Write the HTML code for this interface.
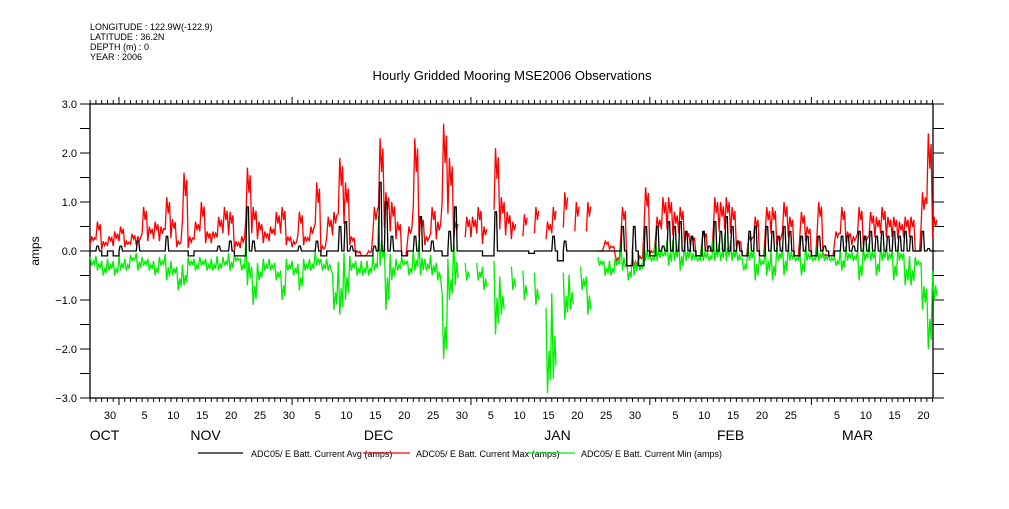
<!DOCTYPE html>
<html><head><meta charset="utf-8">
<style>
html,body{margin:0;padding:0;background:#fff;}
body{width:1009px;height:504px;overflow:hidden;font-family:"Liberation Sans",sans-serif;}
svg text{font-family:"Liberation Sans",sans-serif;fill:#000;}
</style></head>
<body>
<svg id="chart" width="1009" height="504" viewBox="0 0 1009 504" xmlns="http://www.w3.org/2000/svg">
  <g font-size="9">
    <text x="90" y="30">LONGITUDE : 122.9W(-122.9)</text>
    <text x="90" y="40">LATITUDE : 36.2N</text>
    <text x="90" y="50">DEPTH (m) : 0</text>
    <text x="90" y="60">YEAR : 2006</text>
  </g>
  <text x="512" y="80" text-anchor="middle" font-size="13">Hourly Gridded Mooring MSE2006 Observations</text>
  <text x="0" y="0" transform="translate(39,251) rotate(-90)" text-anchor="middle" font-size="12">amps</text>
  <g id="axes"></g>
  <g id="series"></g>
  <g font-size="9">
    <g>
      <line x1="198" y1="453" x2="243" y2="453" stroke="#000" stroke-width="1.3"/>
      <text x="251" y="457">ADC05/ E Batt. Current Avg (amps)</text>
    </g>
    <g>
      <line x1="363" y1="453" x2="410" y2="453" stroke="#f00" stroke-width="1.3"/>
      <text x="416" y="457">ADC05/ E Batt. Current Max (amps)</text>
    </g>
    <g>
      <line x1="528" y1="453" x2="575" y2="453" stroke="#0e0" stroke-width="1.3"/>
      <text x="581" y="457">ADC05/ E Batt. Current Min (amps)</text>
    </g>
  </g>
</svg>
<script>
// days counted from 1 Nov 2006 (d=0); first entry is d=-5
const startDay = -5;
const maxVals = [0.3,0.6,0.2,0.3,0.4,0.5,0.2,0.35,0.3,0.9,0.5,0.6,0.5,1.1,0.65,0.2,1.6,0.3,0.6,1.0,
0.4,0.4,0.7,0.9,0.8,0.2,0.3,1.7,0.9,0.6,0.4,0.5,0.8,0.9,0.3,0.2,0.8,0.3,0.5,1.4,
0.1,0.7,0.8,1.9,1.4,0.3,0.0,-0.1,0.0,0.9,2.3,1.2,1.0,0.6,-0.1,0.5,2.3,0.7,0.3,0.9,
0.6,2.6,1.9,0.6,null,0.7,0.7,0.9,0.5,null,2.1,1.1,0.8,0.6,null,0.75,null,0.9,null,0.6,
0.9,null,1.2,null,1.0,null,1.0,null,0.0,0.2,0.1,-0.2,0.9,-0.3,-0.3,-0.1,1.3,0.0,0.7,1.1,
1.1,0.8,0.9,0.4,0.3,-0.1,0.4,0.0,1.1,1.0,1.1,0.9,0.2,-0.1,0.3,0.7,-0.1,0.9,0.9,0.3,
1.0,0.7,-0.1,0.8,0.5,-0.1,1.0,-0.1,-0.1,0.4,0.9,0.4,0.3,0.9,0.3,0.8,0.7,0.9,0.7,0.7,
0.6,0.7,0.7,0.0,1.2,2.4,0.7];
const avgVals = [0.0,0.1,-0.1,0.0,-0.1,0.1,0.0,0.0,0.2,0.0,0.0,0.0,0.0,0.3,0.0,0.0,0.0,-0.1,0.0,0.0,
0.0,0.0,0.1,0.0,0.2,-0.1,-0.1,0.9,0.2,0.0,0.0,0.0,0.0,0.0,0.0,0.0,0.1,0.0,0.0,0.2,
-0.1,0.0,0.0,0.5,0.6,0.1,-0.1,-0.1,-0.1,0.1,1.4,1.0,0.3,0.0,-0.1,0.0,0.3,0.7,0.0,0.2,
0.0,-0.1,0.4,0.9,0.0,0.0,0.0,0.0,-0.1,-0.1,0.8,0.0,0.0,0.0,0.0,0.0,-0.05,0.0,0.0,0.0,
0.3,-0.2,0.2,0.0,0.0,0.0,0.0,0.0,0.0,0.0,0.0,0.0,0.5,-0.3,0.5,-0.3,0.5,-0.1,0.5,0.1,
0.6,0.5,0.6,0.4,0.3,-0.1,0.4,0.1,0.6,0.4,0.7,0.5,0.2,-0.1,0.4,0.5,-0.1,0.5,0.4,0.3,
0.5,0.4,-0.1,0.3,0.3,-0.1,0.3,0.1,-0.1,0.0,0.3,0.3,0.1,0.4,0.3,0.4,0.3,0.4,0.3,0.4,
0.3,0.4,0.3,0.0,0.4,0.05,0.0];
const minVals = [-0.3,-0.4,-0.5,-0.4,-0.5,-0.4,-0.4,-0.2,-0.4,-0.3,-0.4,-0.5,-0.3,-0.6,-0.5,-0.8,-0.7,-0.3,-0.4,-0.3,
-0.4,-0.4,-0.4,-0.3,-0.4,-0.2,-0.4,-0.7,-1.1,-0.6,-0.4,-0.4,-0.6,-1.0,-0.4,-0.5,-0.8,-0.4,-0.4,-0.3,
-0.4,-0.4,-1.2,-1.3,-1.0,-0.4,-0.5,-0.5,-0.5,-0.4,-0.3,-1.2,-0.6,-0.4,-0.3,-0.5,-0.4,-0.5,-0.4,-0.5,
-0.6,-2.2,-1.0,-0.7,null,-0.6,null,-0.6,-0.8,null,-1.7,-1.3,null,-0.8,null,-1.0,null,-1.1,null,-2.9,
-2.6,null,-1.4,-1.2,null,-0.8,-1.3,null,-0.3,-0.5,-0.5,-0.3,-0.4,-0.6,-0.5,-0.4,-0.2,-0.2,-0.2,-0.1,
-0.3,-0.2,-0.4,-0.2,-0.2,-0.2,-0.2,-0.2,-0.2,-0.2,-0.2,-0.2,-0.2,-0.4,-0.2,-0.6,-0.3,-0.5,-0.6,-0.2,
-0.5,-0.2,-0.2,-0.5,-0.2,-0.2,-0.2,-0.2,-0.2,-0.3,-0.4,-0.2,-0.2,-0.6,-0.2,-0.2,-0.5,-0.2,-0.2,-0.6,
-0.2,-0.7,-0.7,-0.3,-1.2,-2.0,-1.0];
const yTicks = [3.0,2.0,1.0,0.0,-1.0,-2.0,-3.0];
const yTickLabels = ["3.0","2.0","1.0","0.0","-1.0","-2.0","-3.0"];
const dayLabelDays = [-2,4,9,14,19,24,29,34,39,44,49,54,59,64,69,74,79,84,89,96,101,106,111,116,124,129,134,139];
const dayLabels = ["30","5","10","15","20","25","30","5","10","15","20","25","30","5","10","15","20","25","30","5","10","15","20","25","5","10","15","20"];
const monthBoundaryDays = [0,30,61,92,120];
const monthNames = ["OCT","NOV","DEC","JAN","FEB","MAR"];
const monthLabelDays = [-2.5,15,45,76,106,128];

const NS = "http://www.w3.org/2000/svg";
const L = 90, R = 933, T = 104, B = 398;
const xScale = d => 119 + d * 5.77;
const yScale = v => 251 - v * 49;
function mk(tag, attrs, parent) {
  const e = document.createElementNS(NS, tag);
  for (const k in attrs) e.setAttribute(k, attrs[k]);
  parent.appendChild(e);
  return e;
}
const axes = document.getElementById('axes');
const series = document.getElementById('series');

const frame = mk('rect', {x: L, y: T, width: R - L, height: B - T, fill: 'none', stroke: '#000', 'stroke-width': 1.3}, axes);



for (let v = -3; v <= 3.001; v += 0.5) {
  const y = yScale(v);
  const t1 = mk('line', {x1: L - 10, y1: y, x2: L, y2: y, stroke: '#000', 'stroke-width': 1}, axes);
  
  
  const t2 = mk('line', {x1: R, y1: y, x2: R + 11, y2: y, stroke: '#000', 'stroke-width': 1}, axes);
  
  
}
yTicks.forEach((v, i) => {
  const t = mk('text', {x: 77, y: yScale(v) + 4, 'text-anchor': 'end', 'font-size': 11}, axes);
  t.textContent = yTickLabels[i].replace('-', '\u2212');
  
  
});

for (let d = -5; d <= 141; d++) {
  const x = xScale(d);
  if (x < L || x > R) continue;
  const major = monthBoundaryDays.includes(d);
  const h = major ? 7 : 4;
  const tb = mk('line', {x1: x, y1: B, x2: x, y2: B + h, stroke: '#000', 'stroke-width': 1}, axes);
  
  
  const tt = mk('line', {x1: x, y1: T, x2: x, y2: T - h, stroke: '#000', 'stroke-width': 1}, axes);
  
  
}
dayLabelDays.forEach((d, i) => {
  const t = mk('text', {x: xScale(d) + 2.5, y: 419, 'text-anchor': 'middle', 'font-size': 11}, axes);
  t.textContent = dayLabels[i];
  
  
});
monthNames.forEach((m, i) => {
  const t = mk('text', {x: xScale(monthLabelDays[i]), y: 440, 'text-anchor': 'middle', 'font-size': 14}, axes);
  t.textContent = m;
  
  
});

function drawExtreme(vals, color, name) {
  const g = mk('g', {stroke: color, 'stroke-width': 1.3, fill: 'none'}, series);
  
  
  let pts = [];
  const flush = () => {
    if (pts.length > 1) {
      const pl = mk('polyline', {points: pts.join(' ')}, g);
      
      
    }
    pts = [];
  };
  vals.forEach((v, i) => {
    const d = startDay + i;
    if (v === null) { flush(); return; }
    const x = xScale(d);
    const a = avgVals[i];
    const dip = name === 'series-max' ? 0.4 * v + 0.6 * Math.min(a, 0) : 0.4 * v + 0.6 * Math.max(a, 0);
    pts.push(x.toFixed(1) + ',' + yScale(dip).toFixed(1));
    pts.push((x + 1.5).toFixed(1) + ',' + yScale(v).toFixed(1));
    pts.push((x + 3).toFixed(1) + ',' + yScale(0.5 * v + 0.5 * dip).toFixed(1));
    pts.push((x + 4.3).toFixed(1) + ',' + yScale(0.85 * v + 0.15 * dip).toFixed(1));
  });
  flush();
}
drawExtreme(maxVals, '#f00', 'series-max');
drawExtreme(minVals, '#0e0', 'series-min');

(function () {
  const pts = [];
  avgVals.forEach((v, i) => {
    const d = startDay + i;
    const x0 = xScale(d), x1 = xScale(d + 1);
    const base = yScale(Math.min(0, v));
    pts.push(x0.toFixed(1) + ',' + base.toFixed(1));
    pts.push((x0 + 1).toFixed(1) + ',' + yScale(v).toFixed(1));
    pts.push((x0 + 2.5).toFixed(1) + ',' + yScale(v).toFixed(1));
    pts.push((x0 + 3.5).toFixed(1) + ',' + base.toFixed(1));
    pts.push(Math.min(x1, R).toFixed(1) + ',' + base.toFixed(1));
  });
  const pl = mk('polyline', {points: pts.join(' '), stroke: '#000', 'stroke-width': 1.3, fill: 'none'}, series);
  
  
})();
</script>
</body></html>
